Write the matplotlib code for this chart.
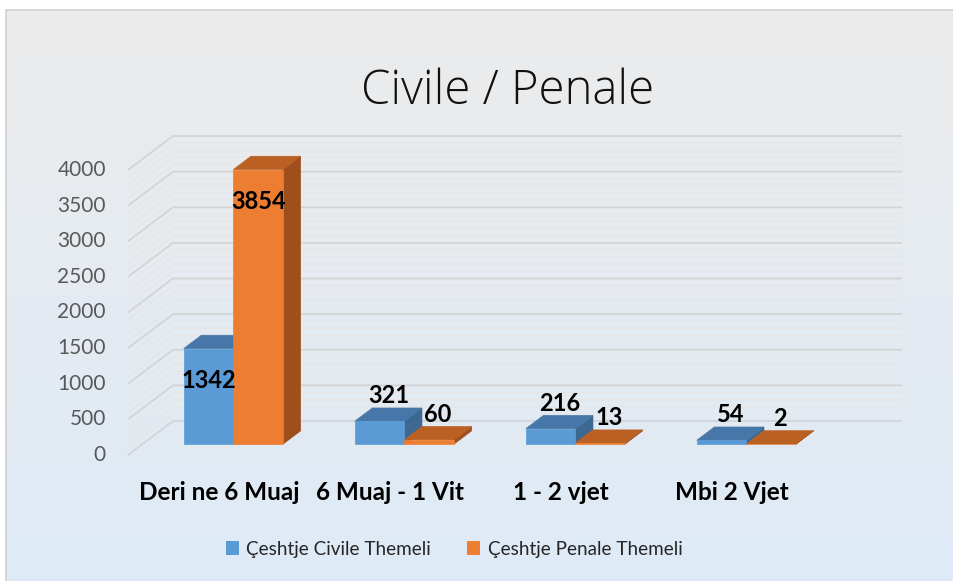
import numpy as np
import matplotlib
matplotlib.use("Agg")
import matplotlib.pyplot as plt
from matplotlib.patches import Rectangle, Polygon, Patch
from matplotlib.colors import LinearSegmentedColormap

# ---- data ----
categories = ["Deri ne 6 Muaj", "6 Muaj - 1 Vit", "1 - 2 vjet", "Mbi 2 Vjet"]
civile = [1342, 321, 216, 54]
penale = [3854, 60, 13, 2]
series_names = ["Çeshtje Civile Themeli", "Çeshtje Penale Themeli"]
yticks = [0, 500, 1000, 1500, 2000, 2500, 3000, 3500, 4000]
title = "Civile / Penale"

# ---- style ----
FONT = ["Lato", "DejaVu Sans"]
W, H = 954, 581
DPI = 100
blue = ("#5B9BD5", "#4677A8", "#3D6891")
orange = ("#ED7D31", "#BA6022", "#9E4F1C")
DEPTH = np.array([45.0, 34.0])   # pixel vector for full depth (display coords)
D_FRONT, D_BACK = 0.32, 0.71     # bar depth planes

fig = plt.figure(figsize=(W / DPI, H / DPI), dpi=DPI)
fig.patch.set_facecolor("white")

# background gradient chart area
bg = fig.add_axes([6 / W, 0, 1 - 6 / W, 1 - 10 / H])
bg.set_axis_off()
cmap = LinearSegmentedColormap.from_list("g", ["#ECECEC", "#DEEAF6"])
grad = np.linspace(0, 1, 256).reshape(-1, 1)
bg.imshow(grad, aspect="auto", cmap=cmap, extent=[0, 1, 0, 1], origin="upper")
bg.set_xlim(0, 1); bg.set_ylim(0, 1)
fig.add_artist(Rectangle((6 / W, -0.01), 1.0, 1 - 10 / H + 0.01, transform=fig.transFigure,
                         fill=False, edgecolor="#D0D0D0", lw=1.2))

# main axes: front plane of the left wall
left_px, right_px = 128, 857
bot_px, top_px = 455, 170
ax = fig.add_axes([left_px / W, 1 - bot_px / H, (right_px - left_px) / W, (bot_px - top_px) / H])
ax.set_axis_off()
spacing = 171.0
x0 = (left_px - 219) / spacing
x1 = x0 + (right_px - left_px) / spacing
ax.set_xlim(x0, x1)
ax.set_ylim(0, 4000)
fig.canvas.draw()

def pt(x, y, d):
    p = ax.transData.transform((x, y)) + DEPTH * d
    return ax.transData.inverted().transform(p)

# left wall + back wall gridlines
for v in range(0, 4001, 100):
    major = v % 500 == 0
    col = "#D4D4D4" if major else "#E6E6E6"
    lw = 1.3 if major else 0.9
    a = pt(x0, v, 0); b = pt(x0, v, 1); c = pt(x1, v, 1)
    ax.plot([a[0], b[0], c[0]], [a[1], b[1], c[1]], color=col, lw=lw,
            clip_on=False, zorder=1, solid_capstyle="butt")

# tick labels
for v in yticks:
    ax.text(x0 - 22 / spacing, v, str(v), ha="right", va="center", fontsize=15,
            color="#595959", family=FONT)

# bars
bw = 0.29
idx = np.arange(len(categories))

def bar3d(xl, val, cols, z):
    xr = xl + bw
    f = [pt(xl, 0, D_FRONT), pt(xr, 0, D_FRONT), pt(xr, val, D_FRONT), pt(xl, val, D_FRONT)]
    t = [pt(xl, val, D_FRONT), pt(xr, val, D_FRONT), pt(xr, val, D_BACK), pt(xl, val, D_BACK)]
    s = [pt(xr, 0, D_FRONT), pt(xr, 0, D_BACK), pt(xr, val, D_BACK), pt(xr, val, D_FRONT)]
    for poly, c in ((s, cols[2]), (t, cols[1]), (f, cols[0])):
        ax.add_patch(Polygon(poly, closed=True, facecolor=c, edgecolor=c, lw=0.5,
                             clip_on=False, zorder=z))

for i in idx:
    bar3d(i - bw, civile[i], blue, 3 + i * 2)
    bar3d(i, penale[i], orange, 3 + i * 2 + 1)

# data labels
def label(xl, val):
    xc = xl + bw / 2
    if val > 1000:
        p = pt(xc, val, D_FRONT)
        disp = ax.transData.transform(p) + np.array([0, -32])
    else:
        p = pt(xc, val, (D_FRONT + D_BACK) / 2)
        disp = ax.transData.transform(p) + np.array([0, 19])
    q = ax.transData.inverted().transform(disp)
    ax.text(q[0], q[1], str(val), ha="center", va="center", fontsize=17,
            fontweight="bold", color="black", family=FONT, zorder=20, clip_on=False)

for i in idx:
    label(i - bw, civile[i])
    label(i, penale[i])

# category labels
for i, c in enumerate(categories):
    ax.text(i, -530, c, ha="center", va="center", fontsize=17.5, fontweight="bold",
            color="black", family=FONT, clip_on=False)

# title
fig.text(508 / W, 1 - 92 / H, title, ha="center", va="center", fontsize=34,
         color="#111111", family=["Open Sans", "Lato", "DejaVu Sans"], fontweight="light")

# legend
handles = [Patch(facecolor=blue[0], edgecolor="none"), Patch(facecolor=orange[0], edgecolor="none")]
fig.legend(handles, series_names, loc="center", bbox_to_anchor=(454 / W, 1 - 549 / H), ncol=2,
           frameon=False, prop={"family": FONT, "size": 13.6}, handlelength=0.7, handleheight=0.7,
           handletextpad=0.4, columnspacing=1.9, labelcolor="#262626")

fig.savefig("out.png", dpi=DPI)
